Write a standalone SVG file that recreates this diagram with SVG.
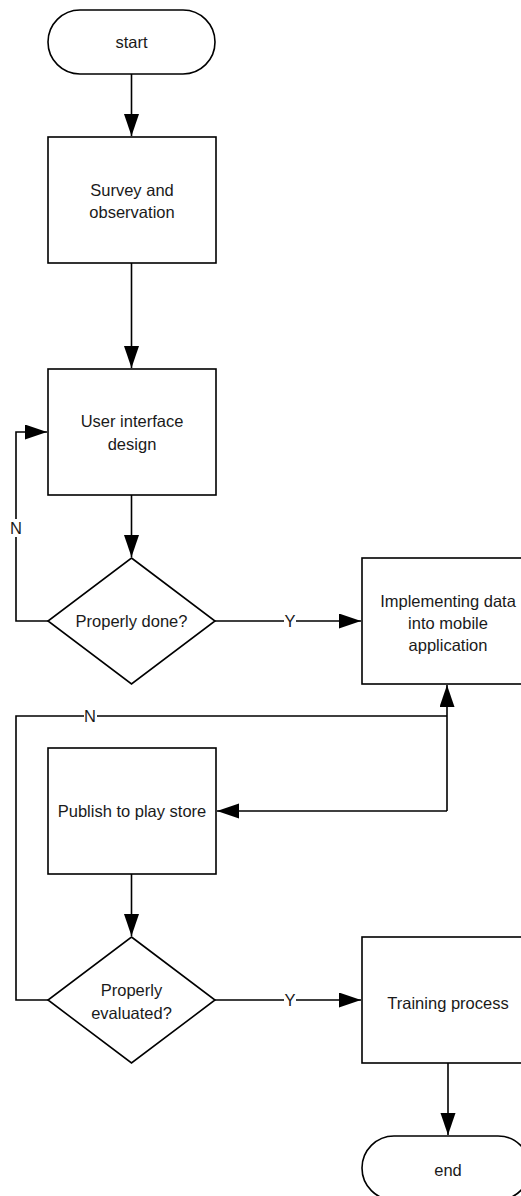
<svg xmlns="http://www.w3.org/2000/svg" width="521" height="1196" viewBox="0 0 521 1196">
<style>
.s{fill:#fff;stroke:#000;stroke-width:1.6}
.t{font-family:"Liberation Sans",Arial,sans-serif;font-size:16.5px;fill:#1a1a1a;text-anchor:middle;dominant-baseline:central}
.c{fill:none;stroke:#000;stroke-width:1.6}
.lb{fill:#fff;stroke:none}
</style>
<defs>
<marker id="ah" markerUnits="userSpaceOnUse" markerWidth="24" markerHeight="16" refX="22" refY="7.5" orient="auto">
<path d="M0,0 L22,7.5 L0,15 z" fill="#000"/>
</marker>
</defs>
<g id="connectors">
<path class="c" d="M131.5,74 V136" marker-end="url(#ah)"/>
<path class="c" d="M131.5,263 V368" marker-end="url(#ah)"/>
<path class="c" d="M131.5,495 V557" marker-end="url(#ah)"/>
<path class="c" d="M48,621 H16 V432 H47" marker-end="url(#ah)"/>
<rect class="lb" x="10" y="519" width="12" height="18"/>
<text class="t" x="16" y="528">N</text>
<path class="c" d="M215,621 H361" marker-end="url(#ah)"/>
<rect class="lb" x="284" y="612" width="12" height="18"/>
<text class="t" x="290" y="621">Y</text>
<path class="c" d="M447,811 V685" marker-end="url(#ah)"/>
<path class="c" d="M447,811 H217" marker-end="url(#ah)"/>
<path class="c" d="M48,1000 H16 V716 H447"/>
<rect class="lb" x="84" y="707" width="13" height="18"/>
<text class="t" x="90" y="716">N</text>
<path class="c" d="M131.5,874 V936" marker-end="url(#ah)"/>
<path class="c" d="M215,1000 H361" marker-end="url(#ah)"/>
<rect class="lb" x="284" y="991" width="12" height="18"/>
<text class="t" x="290" y="1000">Y</text>
<path class="c" d="M448,1063 V1135" marker-end="url(#ah)"/>
</g>
<g id="start">
<rect class="s" x="48" y="10" width="167" height="64" rx="32" ry="32"/>
<text class="t" x="131.5" y="42">start</text>
</g>
<g id="survey">
<rect class="s" x="48" y="137" width="168" height="126"/>
<text class="t" x="132" y="190">Survey and</text>
<text class="t" x="132" y="212">observation</text>
</g>
<g id="ui-design">
<rect class="s" x="48" y="369" width="168" height="126"/>
<text class="t" x="132" y="421">User interface</text>
<text class="t" x="132" y="444">design</text>
</g>
<g id="properly-done">
<path class="s" d="M131.5,558 L215,621 L131.5,684 L48,621 Z"/>
<text class="t" x="131.5" y="621">Properly done?</text>
</g>
<g id="implementing">
<rect class="s" x="362" y="558" width="168" height="126"/>
<text class="t" x="448" y="601">Implementing data</text>
<text class="t" x="448" y="623">into mobile</text>
<text class="t" x="448" y="645">application</text>
</g>
<g id="publish">
<rect class="s" x="48" y="748" width="168" height="126"/>
<text class="t" x="132" y="811">Publish to play store</text>
</g>
<g id="properly-evaluated">
<path class="s" d="M131.5,937 L215,1000 L131.5,1063 L48,1000 Z"/>
<text class="t" x="131.5" y="990">Properly</text>
<text class="t" x="131.5" y="1013">evaluated?</text>
</g>
<g id="training">
<rect class="s" x="362" y="937" width="168" height="126"/>
<text class="t" x="448" y="1003">Training process</text>
</g>
<g id="end">
<rect class="s" x="362" y="1136" width="168" height="64" rx="32" ry="32"/>
<text class="t" x="448" y="1170">end</text>
</g>
</svg>
